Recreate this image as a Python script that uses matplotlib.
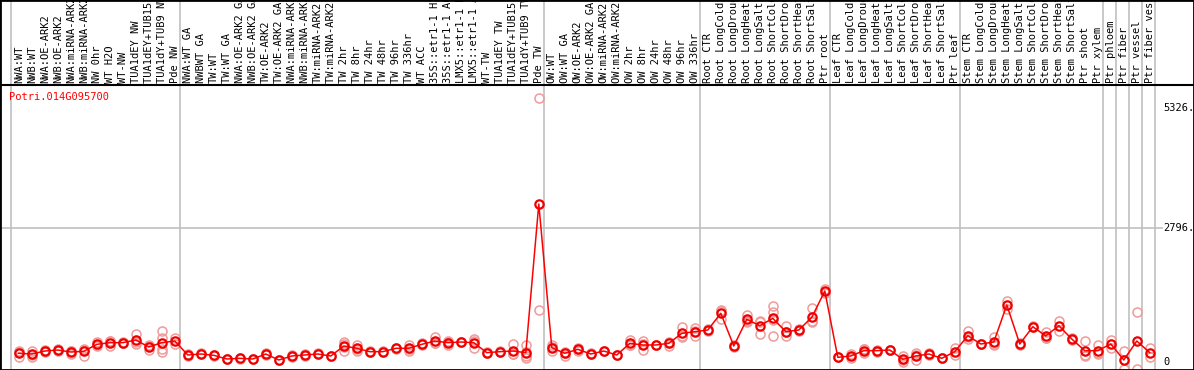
import matplotlib
matplotlib.use("Agg")
import matplotlib.pyplot as plt
import matplotlib.transforms as mtransforms

# sample labels, left to right
samples = [
    "NWA:WT", "NWB:WT", "NWA:OE-ARK2", "NWB:OE-ARK2", "NWA:miRNA-ARK2", "NWB:miRNA-ARK2",
    "NW 0hr", "WT H2O", "WT-NW", "TUA1dEY NW", "TUA1dEY+TUB15 NW", "TUA1dY+TUB9 NW", "Pde NW",
    "NWA:WT GA", "NWBWT GA", "TW:WT", "TW:WT GA", "NWA:OE-ARK2 GA", "NWB:OE-ARK2 GA",
    "TW:OE-ARK2", "TW:OE-ARK2 GA", "NWA:miRNA-ARK2 GA", "NWB:miRNA-ARK2 GA", "TW:miRNA-ARK2",
    "TW:miRNA-ARK2 GA", "TW 2hr", "TW 8hr", "TW 24hr", "TW 48hr", "TW 96hr", "TW 336hr",
    "WT ACC", "35S::etr1-1 H2O", "35S::etr1-1 ACC", "LMX5::etr1-1 H2O", "LMX5::etr1-1 ACC",
    "WT-TW", "TUA1dEY TW", "TUA1dEY+TUB15 TW", "TUA1dY+TUB9 TW", "Pde TW",
    "OW:WT", "OW:WT GA", "OW:OE-ARK2", "OW:OE-ARK2 GA", "OW:miRNA-ARK2", "OW:miRNA-ARK2 GA",
    "OW 2hr", "OW 8hr", "OW 24hr", "OW 48hr", "OW 96hr", "OW 336hr",
    "Root CTR", "Root LongCold", "Root LongDrought", "Root LongHeat", "Root LongSalt",
    "Root ShortCold", "Root ShortDrought", "Root ShortHeat", "Root ShortSalt", "Ptr root",
    "Leaf CTR", "Leaf LongCold", "Leaf LongDrought", "Leaf LongHeat", "Leaf LongSalt",
    "Leaf ShortCold", "Leaf ShortDrought", "Leaf ShortHeat", "Leaf ShortSalt", "Ptr leaf",
    "Stem CTR", "Stem LongCold", "Stem LongDrought", "Stem LongHeat", "Stem LongSalt",
    "Stem ShortCold", "Stem ShortDrought", "Stem ShortHeat", "Stem ShortSalt",
    "Ptr shoot", "Ptr xylem", "Ptr phloem", "Ptr fiber", "Ptr vessel", "Ptr fiber vessel",
]

# mean expression per sample
means = [
    154, 139, 202, 223, 181, 196, 343, 378, 378, 434, 287, 378, 413,
    118, 139, 111, 34, 48, 34, 139, 13, 97, 118, 139, 97, 308, 259, 188, 188, 259, 259,
    343, 413, 378, 392, 378, 167, 188, 202, 167, 3302,
    272, 154, 238, 139, 202, 118, 364, 329, 329, 364, 575, 610,
    645, 997, 308, 870, 736, 891, 610, 645, 912, 1467,
    69, 97, 209, 209, 223, 27, 97, 139, 48, 188,
    525, 350, 392, 1172, 350, 715, 519, 736, 455, 209, 209,
    350, 13, 413, 167,
]

# replicate values per sample
replicates = [
    [190, 200, 70], [210, 125, 85], [225, 180, 200], [240, 210, 220], [210, 130, 200],
    [230, 100, 255], [400, 300, 330], [420, 300, 410], [370, 390, 375], [560, 350, 390],
    [330, 230, 300], [630, 470, 238, 175], [470, 360],
    [130, 105], [150, 130], [120, 100], [40, 30], [60, 40], [40, 30], [170, 110], [20, 10],
    [110, 85], [130, 105], [150, 130], [105, 90], [400, 350, 200, 280], [330, 200, 250],
    [200, 175], [195, 180], [270, 250], [330, 200, 245], [370, 320], [500, 370, 370],
    [420, 330, 385], [400, 385], [455, 260, 420], [175, 160], [195, 180], [340, 130, 140],
    [330, 190, 50, 100], [5537, 1067],
    [330, 200, 285], [190, 100, 170], [270, 210, 235], [150, 130], [210, 195], [125, 110],
    [430, 330, 330], [420, 220, 345], [335, 325], [400, 310, 380], [715, 520, 490],
    [680, 520, 630],
    [660, 630], [1055, 870, 1065], [330, 290], [960, 820, 830], [835, 560, 810],
    [1150, 1030, 520, 860], [720, 510, 600], [660, 630], [1100, 810, 830], [1510, 1430],
    [70, 68], [60, 130], [150, 240, 240], [190, 230], [220, 225], [90, -23, 14],
    [160, 20, 110], [160, 120], [50, 45], [260, 120],
    [630, 450, 495], [360, 340], [500, 320, 355], [1263, 1080], [330, 370], [730, 700],
    [610, 470, 475], [840, 630], [470, 440], [420, 118, 89], [330, 130, 165],
    [260, 440], [202, -176], [1018, -183], [260, 75],
]

# group separators (after these sample positions)
separators = [-0.5, 12.5, 40.5, 52.5, 62.5, 72.5, 83.5, 84.5, 85.5, 86.5, 87.5]
gene = "Potri.014G095700"
ytick_values = [5326, 2796, 0]
ytick_labels = ["5326.", "2796.", "0"]

W, H = 1194, 370
X0, DX = 18.8, 13.0          # pixel of first sample, pixel step
Y0, DY = 9.4, 0.04743        # pixel (from bottom) of zero, pixels per unit


def xpix(p):
    return (p - X0) / DX


def ypix(p):
    return (p - Y0) / DY


mono = "DejaVu Sans Mono"
fig = plt.figure(figsize=(W / 100, H / 100), dpi=100)
ax = fig.add_axes([0, 0, 1, 1])
ax.set_xlim(xpix(0), xpix(W))
ax.set_ylim(ypix(0), ypix(H))
ax.set_xticks([])
ax.set_yticks([])
for s in ax.spines.values():
    s.set_color("black")
    s.set_linewidth(2)

top = ypix(H - 85)
ax.axhline(top, color="black", lw=1.5)
for b in separators:
    ax.axvline(b - 0.08, color="#c0c0c0", lw=1.2, zorder=0)
ax.plot([xpix(0), xpix(1162)], [2796, 2796], color="#c0c0c0", lw=1.2, zorder=0)

idx = list(range(len(samples)))
for i, reps in enumerate(replicates):
    ax.plot([i] * len(reps), reps, "o", ms=6.5, mfc="none", mec="#f09a9a",
            mew=1.1, zorder=2)
ax.plot(idx, means, "-", color="#ff0000", lw=1.1, zorder=3)
ax.plot(idx, means, "o", ms=6.0, mfc="none", mec="#ee0000", mew=1.6, zorder=4)

trans = mtransforms.blended_transform_factory(ax.transData, ax.transData)
for i, name in enumerate(samples):
    ax.text(i, ypix(H - 83), name, rotation=90, ha="center", va="bottom",
            family=mono, fontsize=7.5, color="black", transform=trans, clip_on=False)

ax.text(9 / W, (H - 97) / H, gene, color="#ff0000", family=mono, fontsize=7.5,
        ha="left", va="center", transform=fig.transFigure)
for v, lab in zip(ytick_values, ytick_labels):
    ax.text(xpix(1163), v if v else ypix(H - 362), lab, family=mono, fontsize=7.5,
            ha="left", va="center")

fig.savefig("out.png", dpi=100)
